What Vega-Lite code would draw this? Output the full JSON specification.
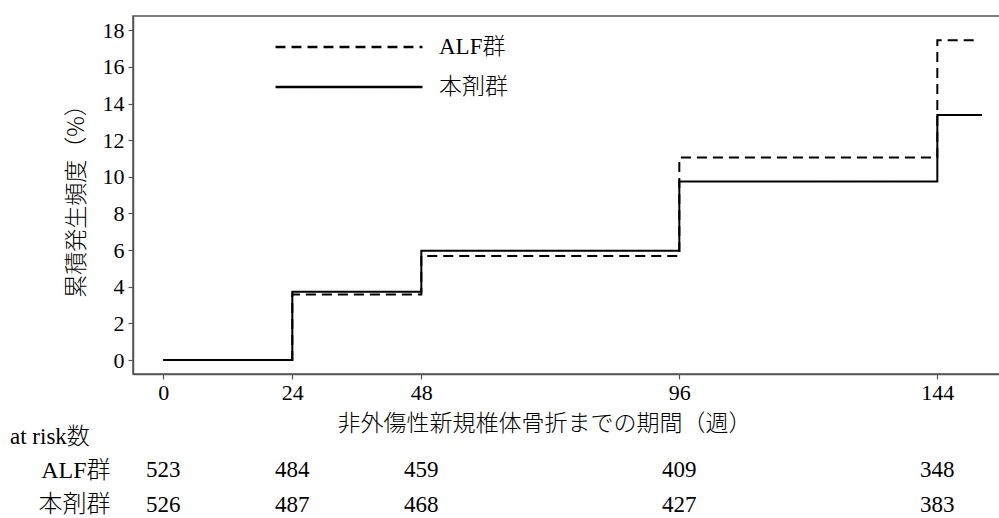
{
  "$schema": "https://vega.github.io/schema/vega-lite/v6.json",
  "padding": {"left": 10, "top": 15, "right": 0, "bottom": 0},
  "background": "white",
  "config": {
    "font": "Liberation Serif, Noto Sans CJK JP",
    "axis": {
      "labelFont": "Liberation Serif, Noto Sans CJK JP",
      "labelFontSize": 22,
      "labelColor": "black",
      "titleFont": "Noto Sans CJK JP, Liberation Serif",
      "titleFontSize": 23,
      "titleFontWeight": 300,
      "titleColor": "black",
      "domainColor": "#555555",
      "domainWidth": 1.5,
      "tickColor": "#555555",
      "tickWidth": 1.2,
      "tickSize": 5,
      "grid": false
    },
    "legend": {
      "labelFont": "Liberation Serif, Noto Sans CJK JP",
      "labelFontSize": 23,
      "labelFontWeight": 300,
      "labelColor": "black"
    },
    "title": {
      "font": "Liberation Serif, Noto Sans CJK JP",
      "fontSize": 23,
      "fontWeight": 300,
      "color": "black"
    }
  },
  "bounds": "flush",
  "spacing": 79,
  "vconcat": [
    {
      "width": 867,
      "height": 358,
      "view": {"stroke": "#555555", "strokeWidth": 1.5},
      "data": {
        "values": [
          {"group": "ALF群", "week": 0, "pct": 0},
          {"group": "ALF群", "week": 24, "pct": 3.57},
          {"group": "ALF群", "week": 48, "pct": 5.68},
          {"group": "ALF群", "week": 96, "pct": 11.05},
          {"group": "ALF群", "week": 144, "pct": 17.45},
          {"group": "ALF群", "week": 150.9, "pct": 17.45},
          {"group": "本剤群", "week": 0, "pct": 0},
          {"group": "本剤群", "week": 24, "pct": 3.72},
          {"group": "本剤群", "week": 48, "pct": 5.96},
          {"group": "本剤群", "week": 96, "pct": 9.75},
          {"group": "本剤群", "week": 144, "pct": 13.37},
          {"group": "本剤群", "week": 152.3, "pct": 13.37}
        ]
      },
      "mark": {"type": "line", "interpolate": "step-after", "strokeWidth": 2, "color": "black"},
      "encoding": {
        "x": {
          "field": "week",
          "type": "quantitative",
          "scale": {"domain": [-5.64, 155.66], "nice": false, "zero": false},
          "axis": {
            "values": [0, 24, 48, 96, 144],
            "title": "非外傷性新規椎体骨折までの期間（週）",
            "titleX": 411,
            "titlePadding": 9,
            "labelPadding": 3
          }
        },
        "y": {
          "field": "pct",
          "type": "quantitative",
          "scale": {"domain": [-0.764, 18.78], "nice": false, "zero": false},
          "axis": {
            "values": [0, 2, 4, 6, 8, 10, 12, 14, 16, 18],
            "title": "累積発生頻度（%）",
            "titlePadding": 14,
            "labelPadding": 4
          }
        },
        "strokeDash": {
          "field": "group",
          "type": "nominal",
          "scale": {"domain": ["ALF群", "本剤群"], "range": [[10, 6], [1, 0]]},
          "legend": {
            "title": null,
            "orient": "none",
            "legendX": 141,
            "legendY": 21,
            "padding": 0,
            "symbolType": "stroke",
            "symbolSize": 21600,
            "symbolStrokeWidth": 2.5,
            "symbolStrokeColor": "black",
            "symbolOffset": 0,
            "clipHeight": 20,
            "rowPadding": 17,
            "labelOffset": 15
          }
        }
      }
    },
    {
      "width": 867,
      "height": 69,
      "view": {"stroke": null},
      "title": {"text": "at risk数", "anchor": "start", "frame": "group", "dx": -123, "offset": -14, "baseline": "alphabetic"},
      "data": {
        "values": [
          {"group": "ALF群", "week": 0, "n": 523},
          {"group": "ALF群", "week": 24, "n": 484},
          {"group": "ALF群", "week": 48, "n": 459},
          {"group": "ALF群", "week": 96, "n": 409},
          {"group": "ALF群", "week": 144, "n": 348},
          {"group": "本剤群", "week": 0, "n": 526},
          {"group": "本剤群", "week": 24, "n": 487},
          {"group": "本剤群", "week": 48, "n": 468},
          {"group": "本剤群", "week": 96, "n": 427},
          {"group": "本剤群", "week": 144, "n": 383}
        ]
      },
      "mark": {"type": "text", "fontSize": 23, "baseline": "middle", "color": "black"},
      "encoding": {
        "x": {
          "field": "week",
          "type": "quantitative",
          "scale": {"domain": [-5.64, 155.66], "nice": false, "zero": false},
          "axis": null
        },
        "y": {
          "field": "group",
          "type": "nominal",
          "scale": {"domain": ["ALF群", "本剤群"]},
          "axis": {"title": null, "domain": false, "ticks": false, "labelPadding": 23, "labelFontSize": 24, "labelFontWeight": 300}
        },
        "text": {"field": "n", "type": "quantitative"}
      }
    }
  ]
}
